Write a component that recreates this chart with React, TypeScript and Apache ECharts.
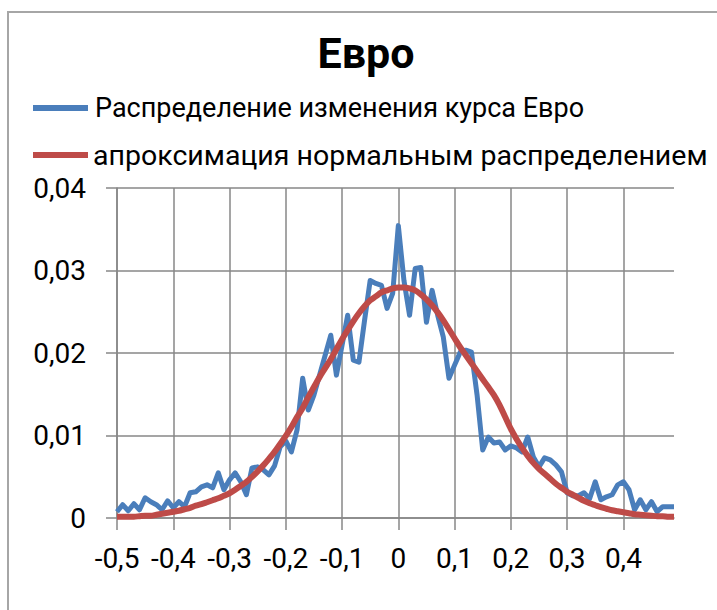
import React, { useEffect, useRef } from "react";
import * as echarts from "echarts";

const titleText = "Евро";
const seriesNames = [
  "Распределение изменения курса Евро",
  "апроксимация нормальным распределением",
];

const categories = [
  "-0.50", "-0.49", "-0.48", "-0.47", "-0.46", "-0.45", "-0.44", "-0.43", "-0.42", "-0.41",
  "-0.40", "-0.39", "-0.38", "-0.37", "-0.36", "-0.35", "-0.34", "-0.33", "-0.32", "-0.31",
  "-0.30", "-0.29", "-0.28", "-0.27", "-0.26", "-0.25", "-0.24", "-0.23", "-0.22", "-0.21",
  "-0.20", "-0.19", "-0.18", "-0.17", "-0.16", "-0.15", "-0.14", "-0.13", "-0.12", "-0.11",
  "-0.10", "-0.09", "-0.08", "-0.07", "-0.06", "-0.05", "-0.04", "-0.03", "-0.02", "-0.01",
  "0.00", "0.01", "0.02", "0.03", "0.04", "0.05", "0.06", "0.07", "0.08", "0.09",
  "0.10", "0.11", "0.12", "0.13", "0.14", "0.15", "0.16", "0.17", "0.18", "0.19",
  "0.20", "0.21", "0.22", "0.23", "0.24", "0.25", "0.26", "0.27", "0.28", "0.29",
  "0.30", "0.31", "0.32", "0.33", "0.34", "0.35", "0.36", "0.37", "0.38", "0.39",
  "0.40", "0.41", "0.42", "0.43", "0.44", "0.45", "0.46", "0.47", "0.48", "0.49",
];

const empirical = [
  0.00076, 0.00161, 0.00088, 0.00173, 0.001, 0.00245, 0.00197, 0.00161, 0.001, 0.00209,
  0.00124, 0.00197, 0.00137, 0.00306, 0.00318, 0.00378, 0.00402, 0.00366, 0.00547, 0.00342,
  0.00463, 0.00547, 0.00439, 0.00282, 0.00608, 0.0062, 0.00584, 0.00523, 0.00632, 0.00862,
  0.00934, 0.00801, 0.01067, 0.01695, 0.01309, 0.0149, 0.01732, 0.01973, 0.02215, 0.01732,
  0.02094, 0.02457, 0.01913, 0.01889, 0.02396, 0.0288, 0.02843, 0.02819, 0.02541, 0.02723,
  0.03544, 0.0288, 0.02457, 0.03025, 0.03037, 0.02372, 0.02759, 0.02457, 0.02191, 0.01695,
  0.01853, 0.0201, 0.02034, 0.0201, 0.0149, 0.00825, 0.00982, 0.0091, 0.00922, 0.00825,
  0.00874, 0.0085, 0.00801, 0.00982, 0.00741, 0.0062, 0.00729, 0.00705, 0.00644, 0.0056,
  0.00306, 0.0027, 0.0027, 0.00306, 0.00233, 0.00439, 0.00221, 0.00257, 0.00282, 0.00402,
  0.00439, 0.00342, 0.001, 0.00221, 0.001, 0.00197, 0.00076, 0.00137, 0.00137, 0.00137,
];

const normalFit = [
  0.00016, 0.00016, 0.00016, 0.00016, 0.00022, 0.00028, 0.00028, 0.0004, 0.00052, 0.00064,
  0.00076, 0.00088, 0.00106, 0.00124, 0.00149, 0.00167, 0.00191, 0.00215, 0.00239, 0.0027,
  0.003, 0.00342, 0.0039, 0.00439, 0.00499, 0.00566, 0.00638, 0.00717, 0.00801, 0.00898,
  0.00995, 0.01103, 0.01224, 0.01333, 0.01466, 0.01587, 0.01708, 0.01816, 0.01925, 0.02046,
  0.02167, 0.02276, 0.02384, 0.02481, 0.02566, 0.02638, 0.02686, 0.02735, 0.02759, 0.02783,
  0.02795, 0.02795, 0.02783, 0.02759, 0.02711, 0.0265, 0.02578, 0.02493, 0.02396, 0.02288,
  0.02179, 0.0207, 0.01973, 0.01877, 0.0178, 0.01683, 0.01587, 0.0149, 0.01369, 0.01224,
  0.01079, 0.00958, 0.0085, 0.00753, 0.00668, 0.00596, 0.00535, 0.00475, 0.00415, 0.00366,
  0.00318, 0.00282, 0.00245, 0.00209, 0.00179, 0.00155, 0.00131, 0.00112, 0.00094, 0.00082,
  0.0007, 0.00058, 0.00046, 0.0004, 0.00034, 0.00028, 0.00022, 0.00022, 0.00016, 0.00016,
];

const FONT = "Roboto";
const GRID_COLOR = "#878787";

export default function App() {
  const ref = useRef<HTMLDivElement>(null);

  useEffect(() => {
    if (!ref.current) return;
    const chart = echarts.init(ref.current, undefined, { renderer: "svg" });
    const option = {
      animation: false,
      backgroundColor: "#ffffff",
      textStyle: { fontFamily: FONT },
      graphic: [
        {
          type: "rect",
          shape: { x: 8, y: 12, width: 760, height: 660 },
          style: { fill: "none", stroke: "#a6a6a6", lineWidth: 2 },
          silent: true,
          z: -1,
        },
      ],
      title: {
        text: titleText,
        left: 361,
        textAlign: "center",
        top: 26,
        textStyle: { fontFamily: FONT, fontWeight: "bold", fontSize: 43, color: "#000" },
      },
      legend: [
        {
          data: [seriesNames[0]],
          left: 28,
          top: 88,
          orient: "vertical",
          icon: "rect",
          itemWidth: 55,
          itemHeight: 6,
          selectedMode: false,
          textStyle: {
            fontFamily: FONT,
            fontSize: 27,
            lineHeight: 30,
            color: "#000",
            padding: [0, 0, 0, 2],
          },
        },
        {
          data: [seriesNames[1]],
          left: 28,
          top: 135,
          orient: "vertical",
          icon: "rect",
          itemWidth: 55,
          itemHeight: 6,
          selectedMode: false,
          textStyle: { fontFamily: FONT, fontSize: 28.5, lineHeight: 30, color: "#000" },
        },
      ],
      grid: { left: 117, right: 43, top: 188, bottom: 92 },
      xAxis: {
        type: "category",
        data: categories,
        boundaryGap: false,
        axisLine: { show: true, lineStyle: { color: GRID_COLOR, width: 1.5 } },
        axisTick: { show: true, interval: 9, length: 12, lineStyle: { color: GRID_COLOR, width: 1.5 } },
        splitLine: { show: true, interval: 9, lineStyle: { color: GRID_COLOR, width: 1.5 } },
        axisLabel: {
          interval: 9,
          margin: 26,
          fontFamily: FONT,
          fontSize: 28,
          color: "#000",
          formatter: (v: string) => String(parseFloat(v)).replace(".", ","),
        },
      },
      yAxis: {
        type: "value",
        min: 0,
        max: 0.04,
        interval: 0.01,
        axisLine: { show: true, lineStyle: { color: GRID_COLOR, width: 1.5 } },
        axisTick: { show: true, length: 11, lineStyle: { color: GRID_COLOR, width: 1.5 } },
        splitLine: { show: true, lineStyle: { color: GRID_COLOR, width: 1.5 } },
        axisLabel: {
          margin: 31,
          fontFamily: FONT,
          fontSize: 28,
          color: "#000",
          formatter: (v: number) => (v === 0 ? "0" : v.toFixed(2).replace(".", ",")),
        },
      },
      series: [
        {
          name: seriesNames[0],
          type: "line",
          data: empirical,
          showSymbol: false,
          symbol: "none",
          color: "#4a7ebb",
          lineStyle: { color: "#4a7ebb", width: 5, join: "round" },
          z: 2,
        },
        {
          name: seriesNames[1],
          type: "line",
          data: normalFit,
          showSymbol: false,
          symbol: "none",
          smooth: 0.3,
          color: "#be4b48",
          lineStyle: { color: "#be4b48", width: 6, join: "round" },
          z: 3,
        },
      ],
    };
    chart.setOption(option as any);
    return () => chart.dispose();
  }, []);

  return (
    <div
      ref={ref}
      style={{ position: "absolute", left: 0, top: 0, width: 717, height: 610 }}
    />
  );
}
